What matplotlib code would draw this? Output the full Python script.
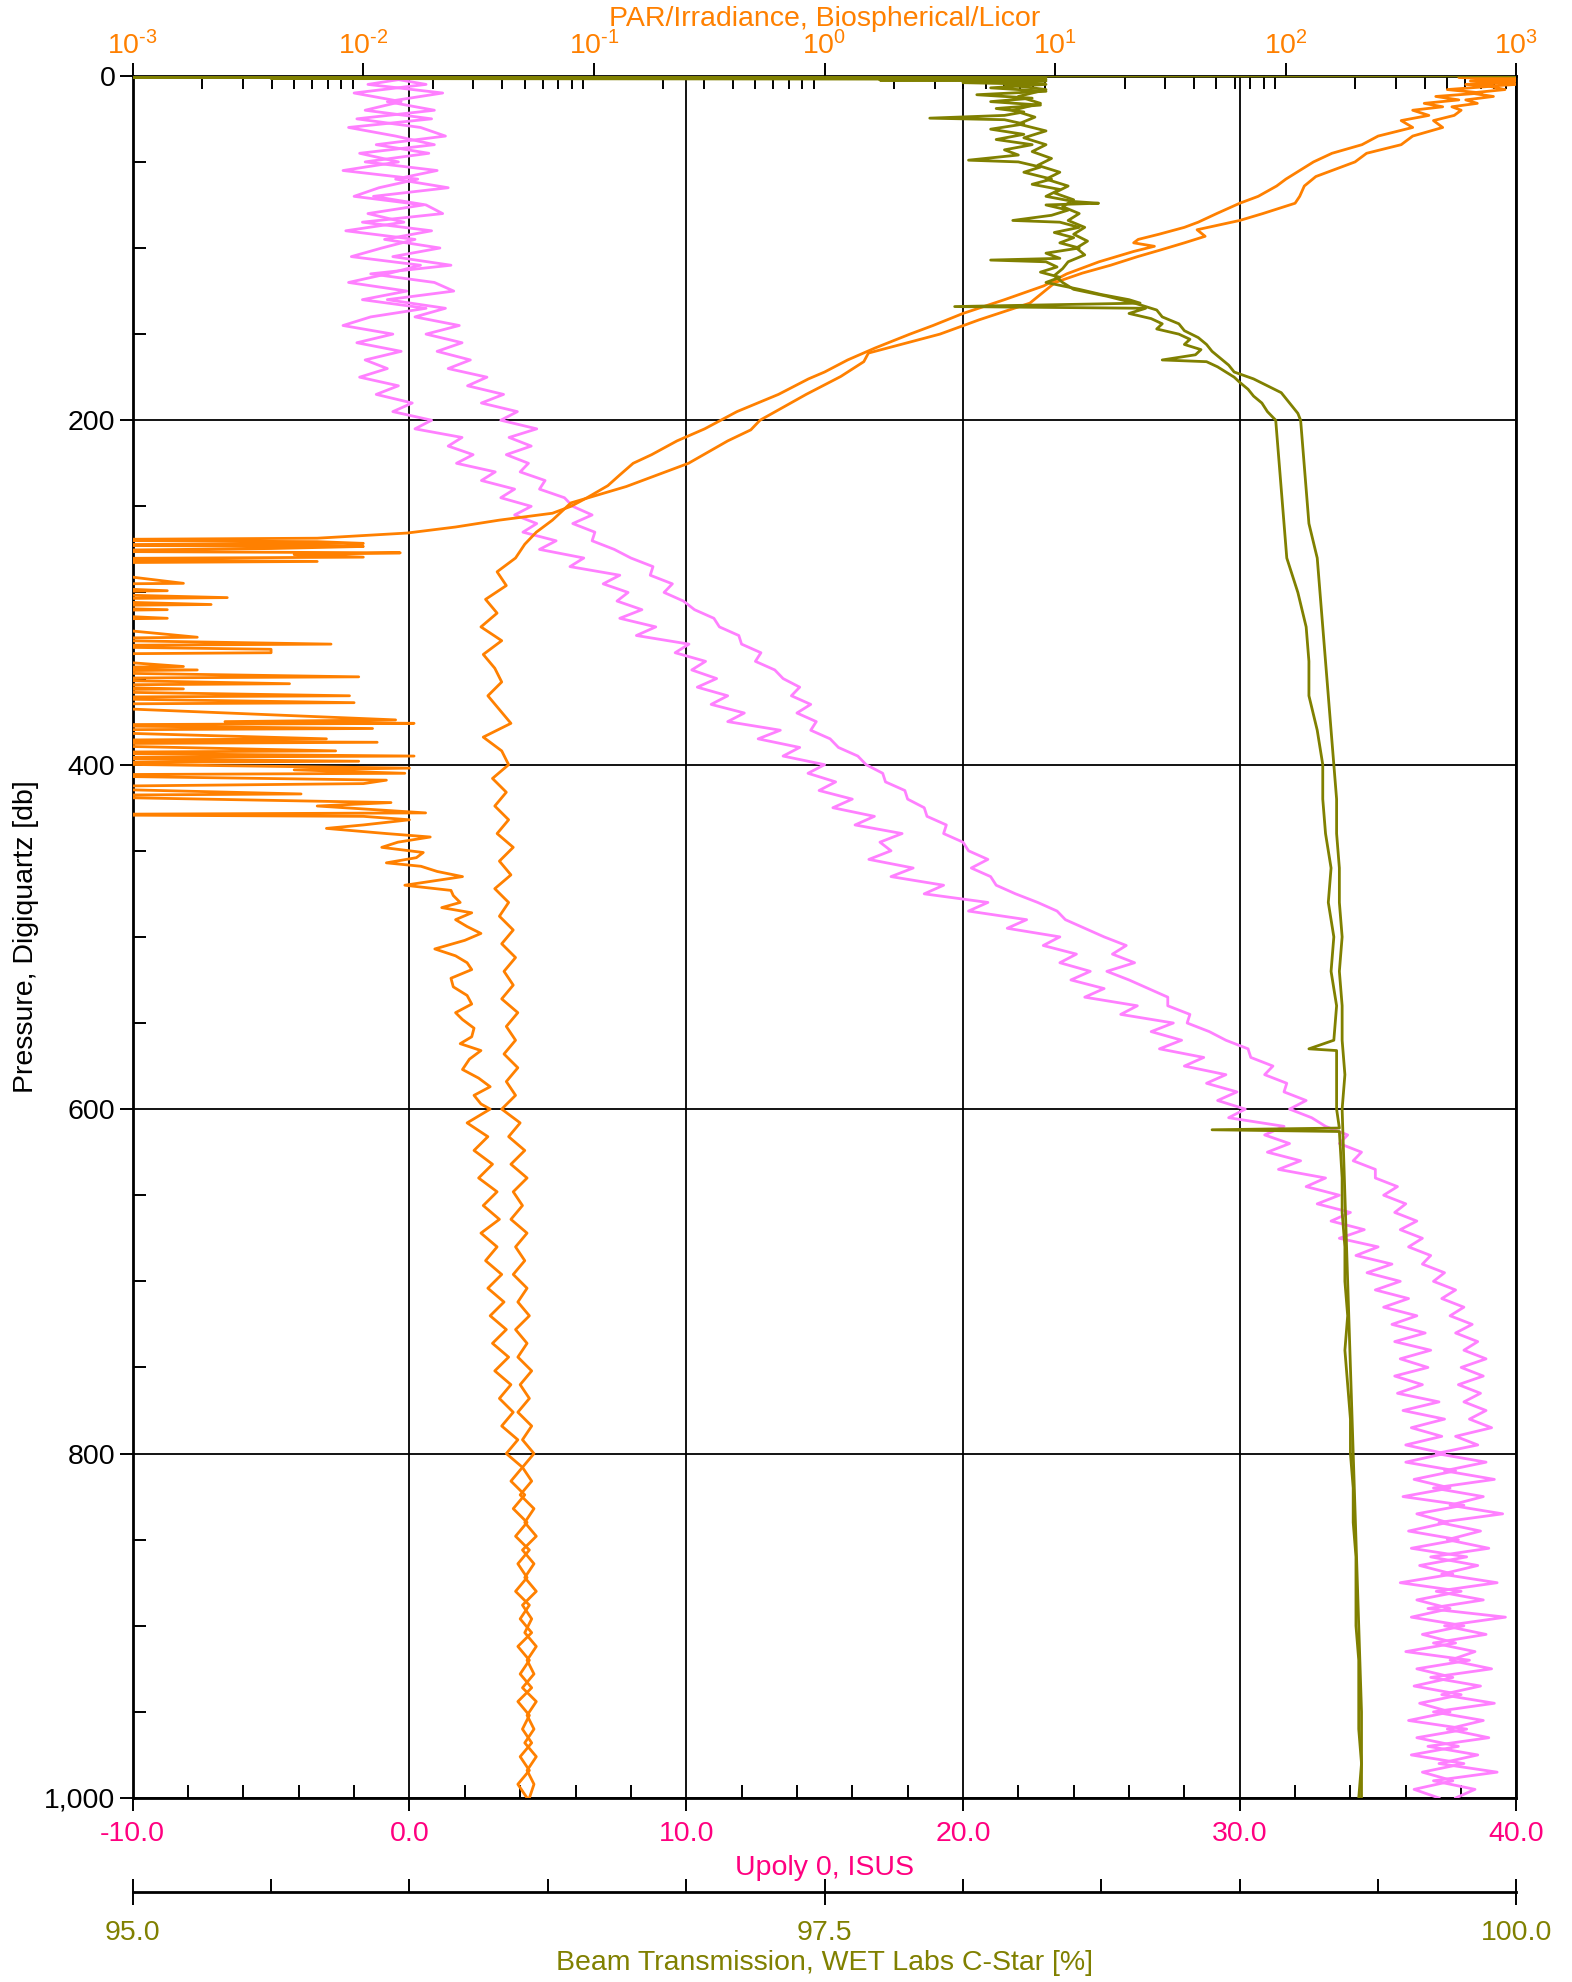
import numpy as np
import matplotlib
matplotlib.use("Agg")
import matplotlib.pyplot as plt
from matplotlib.ticker import MultipleLocator, FixedLocator, FuncFormatter, LogLocator, NullFormatter

plt.rcParams['font.family'] = ['Liberation Sans', 'DejaVu Sans']
plt.rcParams['axes.unicode_minus'] = False
plt.rcParams['mathtext.fontset'] = 'custom'
plt.rcParams['mathtext.rm'] = 'Liberation Sans'
plt.rcParams['mathtext.default'] = 'regular'

# ---------------- data ----------------
# ISUS Upoly 0 (two casts), sampled every 5 db
isus_pressure = np.arange(0, 1001, 5)
isus_cast1 = [
    -1.2, 0.6, -2.0, -0.3, -1.6, 0.8, -2.2, -0.5, 0.9, -1.8,
    -0.4, -2.4, 0.3, -1.1, -2.0, 0.5, -1.5, -0.2, -2.3, 0.2,
    -1.0, -2.1, 0.4, -0.8, -2.2, -0.1, -1.7, 0.6, -1.4, -2.4,
    -0.6, -1.9, -0.3, -1.6, -0.8, -1.8, -0.4, -1.2, 0.1, -0.6,
    0.8, 0.2, 1.9, 1.4, 2.3, 1.7, 3.1, 2.6, 3.8, 3.3,
    4.4, 3.8, 4.6, 4.1, 5.3, 4.7, 6.3, 5.8, 7.6, 7.0,
    7.9, 7.5, 8.4, 7.6, 8.9, 8.2, 10.1, 9.6, 10.7, 10.2,
    11.1, 10.4, 11.5, 10.9, 12.1, 11.5, 13.4, 12.6, 14.1, 13.5,
    15.0, 14.4, 15.4, 14.8, 16.0, 15.3, 16.8, 16.1, 17.8, 17.0,
    17.4, 16.6, 18.2, 17.4, 19.3, 18.6, 20.9, 20.2, 22.3, 21.6,
    23.5, 22.9, 24.1, 23.5, 24.6, 23.9, 25.1, 24.4, 26.3, 25.7,
    27.6, 26.8, 27.9, 27.1, 28.7, 28.0, 29.5, 28.8, 29.9, 29.2,
    30.2, 29.6, 31.6, 30.9, 31.8, 31.0, 32.2, 31.4, 33.1, 32.4,
    33.6, 32.8, 34.0, 33.3, 34.5, 33.6, 35.0, 34.2, 35.5, 34.6,
    35.8, 34.9, 36.1, 35.2, 36.4, 35.5, 36.7, 35.6, 36.9, 35.8,
    36.8, 35.6, 36.6, 35.7, 37.2, 35.9, 37.4, 36.2, 37.3, 36.0,
    37.4, 36.0, 37.8, 36.3, 37.6, 35.9, 38.1, 36.4, 37.5, 36.1,
    37.9, 36.2, 38.2, 36.5, 37.7, 35.8, 38.0, 36.4, 37.6, 36.2,
    38.1, 36.6, 37.8, 36.0, 38.3, 36.4, 37.7, 36.3, 38.0, 36.5,
    37.6, 36.1, 38.2, 36.4, 37.9, 36.2, 38.1, 36.6, 37.7, 36.3,
    37.2]
isus_cast2 = [
    0.5, -1.5, 1.2, -0.8, 0.9, -1.9, 0.4, 1.3, -1.2, 0.7,
    -1.6, 1.0, -0.5, 1.4, -1.3, 0.6, 1.2, -1.7, 0.8, -0.9,
    1.1, -0.6, 1.5, -1.4, 0.9, 1.6, -0.8, 1.3, 0.2, 1.8,
    0.6, 1.9, 1.0, 2.2, 1.4, 2.8, 2.1, 3.4, 2.6, 3.9,
    3.3, 4.6, 3.6, 4.4, 3.5, 4.3, 4.0, 4.9, 4.7, 5.6,
    5.9, 6.6, 5.9, 6.7, 6.6, 7.4, 8.0, 8.8, 8.7, 9.5,
    9.2, 9.9, 10.3, 11.0, 11.2, 11.9, 12.0, 12.7, 12.5, 13.2,
    13.5, 14.1, 13.8, 14.5, 14.0, 14.7, 14.5, 15.2, 15.5, 16.2,
    16.5, 17.1, 17.2, 17.9, 18.0, 18.6, 18.7, 19.4, 19.3, 20.0,
    20.2, 20.9, 20.3, 21.0, 21.2, 21.9, 22.7, 23.4, 23.7, 24.4,
    25.1, 25.9, 25.4, 26.2, 25.2, 26.0, 26.7, 27.4, 27.4, 28.2,
    28.1, 28.9, 29.5, 30.3, 30.4, 31.2, 30.9, 31.7, 31.6, 32.4,
    31.8, 32.6, 33.1, 33.9, 33.6, 34.4, 34.1, 34.9, 34.9, 35.7,
    35.2, 36.0, 35.6, 36.4, 35.8, 36.6, 36.1, 36.9, 36.6, 37.4,
    37.0, 37.8, 37.3, 38.1, 37.6, 38.4, 37.8, 38.6, 38.1, 38.9,
    38.0, 38.8, 37.9, 38.7, 38.1, 38.9, 38.3, 39.1, 37.8, 38.6,
    37.1, 38.9, 37.4, 39.2, 37.0, 38.8, 37.6, 39.5, 37.2, 38.7,
    37.5, 39.0, 36.9, 38.6, 37.3, 39.3, 37.1, 38.8, 36.8, 39.6,
    37.4, 38.9, 37.0, 38.5, 37.6, 39.1, 36.9, 38.7, 37.3, 39.2,
    37.0, 38.8, 37.5, 39.0, 36.8, 38.6, 37.2, 39.3, 37.0, 38.5,
    37.8]

# PAR (log10 of irradiance), cast 1 (drops into dark noise)
par1_pressure = [
    0, 1, 2, 3, 4, 5, 6, 8, 10, 12, 14, 16, 18, 20, 23, 26, 30, 35, 40, 45,
    50, 55, 60, 64, 70, 74, 80, 85, 88, 92, 95, 97, 99, 102, 108, 115, 122, 130, 138, 145,
    150, 158, 165, 172, 176, 185, 195, 205, 212, 220, 225, 232, 238, 245, 250, 254, 258, 262, 265.5, 268.5,
    269.5, 270.5, 271.5, 272.5, 273.3, 274.5, 276, 277, 278, 279.5, 280.5, 282, 283, 294.7, 295.5, 299, 300, 303, 304, 307,
    308, 310, 311, 315, 316, 326, 327, 330, 331, 333, 335, 336, 343, 344, 345, 346, 349, 350, 353, 354,
    356, 357, 360, 361, 364, 365, 374, 375, 376, 377, 379, 380, 385, 386, 387, 388, 392, 393, 395, 396,
    398, 399, 402, 403, 405, 406, 409, 411, 413, 417, 418, 422, 424, 428, 429, 430, 432, 435, 437, 440,
    442, 445, 448, 451, 454, 457, 459, 462, 465, 468, 470, 473, 476, 480, 483, 486, 490, 494, 498, 502,
    507, 511, 515, 519, 524, 529, 534, 539, 544, 548, 553, 558, 562, 566, 571, 577, 582, 587, 592, 597,
    600, 608, 616, 624, 632, 640, 648, 656, 664, 672, 680, 688, 696, 704, 712, 720, 728, 736, 744, 752,
    760, 768, 776, 784, 792, 800, 808, 816, 824, 832, 840, 848, 856, 864, 872, 880, 888, 896, 904, 912,
    920, 928, 936, 944, 952, 960, 968, 976, 984, 992, 1000]
par1_log10 = [
    2.95, 2.75, 3.0, 2.8, 2.97, 2.78, 2.9, 2.7, 2.85, 2.65, 2.75, 2.6, 2.68, 2.55, 2.62, 2.5, 2.55, 2.4, 2.33, 2.2,
    2.12, 2.06, 2.0, 1.96, 1.88, 1.80, 1.70, 1.62, 1.56, 1.45, 1.36, 1.34, 1.43, 1.34, 1.19, 1.05, 0.95, 0.78, 0.60, 0.47,
    0.37, 0.22, 0.10, 0.0, -0.07, -0.2, -0.38, -0.52, -0.64, -0.75, -0.83, -0.89, -0.94, -1.03, -1.1, -1.18, -1.41, -1.6, -1.81, -2.2,
    -3.5, -2.2, -2.0, -3.5, -2.0, -2.4, -3.5, -1.84, -2.3, -2.0, -3.5, -2.2, -3.5, -2.78, -3.5, -2.85, -3.5, -2.59, -3.5, -2.66,
    -3.5, -2.85, -3.5, -2.85, -3.5, -2.72, -3.5, -2.14, -3.5, -2.4, -2.4, -3.5, -2.78, -3.5, -2.72, -3.5, -2.02, -3.5, -2.32, -3.5,
    -2.78, -3.5, -2.06, -3.5, -2.04, -3.5, -1.86, -2.6, -1.78, -3.5, -1.96, -3.5, -2.16, -3.5, -1.94, -3.5, -2.12, -3.5, -1.78, -3.5,
    -2.02, -3.5, -1.80, -2.3, -1.82, -3.5, -1.9, -2.0, -3.5, -2.27, -3.5, -1.88, -2.2, -1.73, -3.5, -2.0, -1.80, -2.0, -2.16, -1.9,
    -1.71, -1.85, -1.92, -1.74, -1.77, -1.9, -1.75, -1.68, -1.57, -1.72, -1.82, -1.62, -1.61, -1.58, -1.66, -1.53, -1.6, -1.55, -1.49, -1.56,
    -1.69, -1.6, -1.55, -1.53, -1.62, -1.61, -1.55, -1.53, -1.6, -1.57, -1.52, -1.53, -1.58, -1.49, -1.54, -1.57, -1.50, -1.45, -1.52, -1.49,
    -1.45, -1.55, -1.46, -1.52, -1.44, -1.50, -1.42, -1.48, -1.41, -1.49, -1.42, -1.47, -1.40, -1.46, -1.39, -1.45, -1.38, -1.44, -1.37, -1.43,
    -1.36, -1.41, -1.35, -1.40, -1.33, -1.38, -1.31, -1.36, -1.30, -1.35, -1.29, -1.34, -1.28, -1.33, -1.29, -1.34, -1.28, -1.32, -1.27, -1.33,
    -1.28, -1.32, -1.27, -1.33, -1.28, -1.31, -1.27, -1.32, -1.28, -1.33, -1.29]

# PAR cast 2
par2_pressure = [
    0, 1, 2, 3, 4, 5, 6, 8, 10, 12, 14, 16, 18, 20, 23, 26, 30, 35, 40, 45,
    50, 55, 58.5, 64, 70, 74, 80, 84, 89.4, 93.2, 97, 101, 105, 110, 114.6, 120, 132, 141.7, 150, 161,
    166, 174.6, 185, 200, 205.6, 212, 225, 238.5, 248, 258, 265, 272,
    280, 288, 296, 304, 312, 320, 328, 336, 344, 352, 360, 368, 376, 384, 392, 400, 408, 416, 424, 432,
    440, 448, 456, 464, 472, 480, 488, 496, 504, 512, 520, 528, 536, 544, 552, 560, 568, 576, 584, 592,
    600, 608, 616, 624, 632, 640, 648, 656, 664, 672, 680, 688, 696, 704, 712, 720, 728, 736, 744, 752,
    760, 768, 776, 784, 792, 800, 808, 816, 824, 832, 840, 848, 856, 864, 872, 880, 888, 896, 904, 912,
    920, 928, 936, 944, 952, 960, 968, 976, 984, 992, 1000]
par2_log10 = [
    2.9, 3.0, 2.85, 3.0, 2.92, 3.0, 2.88, 2.95, 2.8, 2.9, 2.78, 2.83, 2.72, 2.76, 2.73, 2.64, 2.68, 2.55, 2.5, 2.35,
    2.3, 2.2, 2.13, 2.08, 2.06, 2.04, 1.9, 1.80, 1.615, 1.65, 1.56, 1.46, 1.357, 1.24, 1.117, 1.0, 0.89, 0.67, 0.5, 0.19,
    0.17, 0.07, -0.08, -0.28, -0.32, -0.42, -0.59, -0.86, -1.1, -1.18, -1.25, -1.3,
    -1.34, -1.42, -1.38, -1.47, -1.42, -1.49, -1.40, -1.48, -1.43, -1.40, -1.46, -1.41, -1.36, -1.48, -1.40, -1.37, -1.44, -1.38, -1.43, -1.37,
    -1.42, -1.35, -1.41, -1.36, -1.43, -1.37, -1.41, -1.35, -1.40, -1.34, -1.39, -1.35, -1.40, -1.33, -1.38, -1.34, -1.39, -1.33, -1.38, -1.34,
    -1.40, -1.32, -1.37, -1.30, -1.36, -1.29, -1.35, -1.31, -1.36, -1.29, -1.34, -1.30, -1.35, -1.29, -1.33, -1.28, -1.34, -1.29, -1.33, -1.27,
    -1.32, -1.28, -1.33, -1.27, -1.31, -1.26, -1.31, -1.27, -1.32, -1.26, -1.30, -1.25, -1.31, -1.26, -1.30, -1.25, -1.31, -1.27, -1.30, -1.25,
    -1.29, -1.26, -1.31, -1.25, -1.29, -1.26, -1.30, -1.25, -1.29, -1.26, -1.28]

# Beam transmission [%], cast 1
beam1_pressure = [
    0.0, 0.3, 0.6, 0.9, 1.2, 1.6, 2.0, 2.5, 3, 4, 5, 7, 9, 11, 13, 15, 17, 19, 21, 23,
    24.6, 25.5, 28, 31, 34, 37, 40, 43, 46, 49, 50, 53, 56, 60, 63, 66, 70, 73, 74, 75,
    78, 81, 84, 85, 88, 91, 94, 97, 100, 103, 106, 107, 108, 111, 114, 117, 120, 122, 124, 127,
    130, 132, 134, 135, 138, 141, 144, 147, 150, 153, 156, 159, 162, 165, 166, 169, 172, 175, 178, 182,
    186, 190, 195, 200, 220, 240, 260, 280, 300, 320, 340, 360, 380, 400, 420, 440, 460, 480, 500, 520,
    540, 560, 565, 566, 580, 600, 611, 612, 613, 640, 660, 680, 700, 720, 740, 760, 780, 800, 820, 840,
    860, 880, 900, 920, 940, 960, 980, 1000]
beam1_percent = [
    100.6, 94.5, 98.3, 94.8, 98.2, 95.5, 98.3, 97.7, 98.3, 98.0, 98.3, 98.1, 98.3, 98.05, 98.25, 98.1, 98.28, 98.12, 98.22, 98.15,
    97.88, 98.15, 98.22, 98.1, 98.22, 98.12, 98.25, 98.15, 98.2, 98.02, 98.2, 98.28, 98.22, 98.32, 98.25, 98.35, 98.3, 98.4, 98.49, 98.3,
    98.38, 98.32, 98.18, 98.35, 98.42, 98.33, 98.40, 98.35, 98.42, 98.3, 98.35, 98.1, 98.3, 98.34, 98.28, 98.35, 98.3, 98.36, 98.42, 98.5,
    98.6, 98.64, 97.97, 98.66, 98.6, 98.68, 98.72, 98.7, 98.78, 98.82, 98.80, 98.86, 98.84, 98.72, 98.88, 98.92, 98.95, 98.98, 99.0, 99.03,
    99.05, 99.08, 99.1, 99.13, 99.14, 99.15, 99.16, 99.17, 99.21, 99.24, 99.25, 99.25, 99.28, 99.30, 99.30, 99.31, 99.33, 99.32, 99.34, 99.33,
    99.35, 99.34, 99.25, 99.35, 99.35, 99.35, 99.36, 98.9, 99.36, 99.37, 99.37, 99.38, 99.38, 99.39, 99.38, 99.39, 99.40, 99.40, 99.41, 99.41,
    99.42, 99.42, 99.42, 99.43, 99.43, 99.43, 99.44, 99.43]

# Beam transmission [%], cast 2
beam2_pressure = [
    2, 5, 8, 12, 16, 20, 24, 28, 32, 36, 40, 44, 48, 52, 56, 60, 64, 68, 72, 76,
    80, 84, 88, 92, 96, 100, 104, 108, 112, 116, 120, 124, 128, 132, 136, 140, 144, 148, 152, 156,
    160, 164, 168, 172, 176, 180, 184, 188, 192, 196, 200, 220, 240, 260, 280, 300, 320, 340, 360, 380,
    400, 420, 440, 460, 480, 500, 520, 540, 560, 580, 600, 650, 700, 750, 800, 850, 900, 950, 1000]
beam2_percent = [
    98.25, 98.15, 98.3, 98.2, 98.28, 98.18, 98.26, 98.2, 98.3, 98.22, 98.3, 98.25, 98.32, 98.27, 98.35, 98.3, 98.38, 98.33, 98.4, 98.36,
    98.42, 98.38, 98.44, 98.40, 98.45, 98.41, 98.44, 98.38, 98.36, 98.33, 98.36, 98.4, 98.52, 98.62, 98.7, 98.72, 98.78, 98.8, 98.85, 98.88,
    98.9, 98.93, 98.96, 98.98, 99.05, 99.1, 99.15, 99.17, 99.19, 99.21, 99.22, 99.23, 99.24, 99.25, 99.28, 99.29, 99.30, 99.31, 99.32, 99.33,
    99.34, 99.35, 99.35, 99.36, 99.36, 99.37, 99.36, 99.37, 99.37, 99.38, 99.37, 99.38, 99.39, 99.40, 99.41, 99.42, 99.43, 99.44, 99.44]

pressure_ticks = [0, 200, 400, 600, 800, 1000]
upoly_ticks = [-10, 0, 10, 20, 30, 40]
beam_ticks = [95.0, 97.5, 100.0]
par_ticks = [1e-3, 1e-2, 1e-1, 1e0, 1e1, 1e2, 1e3]

# ---------------- style ----------------
C_PINK_LINE = '#FF80FF'
C_PINK_TEXT = '#FF0080'
C_ORANGE = '#FF8000'
C_OLIVE = '#808000'
FS = 20.5
TL = 9.5      # tick length (pt)
TW = 1.4      # tick width (pt)
SPW = 2.0     # spine width
LW = 2.0


def par_label(v, pos):
    e = int(round(np.log10(v)))
    if e < 0:
        return r"$10^{\text{-}%d}$" % (-e)
    return r"$10^{%d}$" % e


fig = plt.figure(figsize=(15.72, 19.82), dpi=100)
ax = fig.add_axes([0.08441, 0.09284, 0.88028, 0.86892])

# ---- main axis: Upoly (bottom) + pressure (left)
ax.plot(isus_cast1, isus_pressure, color=C_PINK_LINE, lw=LW, zorder=3)
ax.plot(isus_cast2, isus_pressure, color=C_PINK_LINE, lw=LW, zorder=3)
ax.set_xlim(-10, 40)
ax.set_ylim(1000, 0)
ax.xaxis.set_major_locator(FixedLocator(upoly_ticks))
ax.xaxis.set_minor_locator(MultipleLocator(2))
ax.xaxis.set_major_formatter(FuncFormatter(lambda v, p: f"{v:.1f}"))
ax.yaxis.set_major_locator(FixedLocator(pressure_ticks))
ax.yaxis.set_minor_locator(MultipleLocator(50))
ax.yaxis.set_major_formatter(FuncFormatter(lambda v, p: f"{v:,.0f}"))
ax.tick_params(axis='both', which='major', direction='out', length=TL, width=TW, labelsize=FS)
ax.tick_params(axis='both', which='minor', direction='in', length=TL, width=TW)
ax.tick_params(axis='x', which='major', labelcolor=C_PINK_TEXT, pad=7)
ax.tick_params(axis='y', which='major', pad=3)
ax.grid(True, which='major', color='black', lw=1.3, zorder=1)
ax.set_axisbelow(True)
for s in ax.spines.values():
    s.set_linewidth(SPW)
ax.set_xlabel("Upoly 0, ISUS", color=C_PINK_TEXT, fontsize=FS, labelpad=6)
ax.set_ylabel("Pressure, Digiquartz [db]", color='black', fontsize=FS, labelpad=4)

# ---- PAR axis (top, log)
axp = ax.twiny()
axp.plot(10 ** np.array(par1_log10), par1_pressure, color=C_ORANGE, lw=LW)
axp.plot(10 ** np.array(par2_log10), par2_pressure, color=C_ORANGE, lw=LW)
axp.set_xscale('log')
axp.set_xlim(1e-3, 1e3)
axp.set_ylim(1000, 0)
axp.xaxis.set_major_locator(FixedLocator(par_ticks))
axp.xaxis.set_major_formatter(FuncFormatter(par_label))
axp.xaxis.set_minor_locator(LogLocator(base=10, subs=np.arange(2, 10), numticks=10))
axp.xaxis.set_minor_formatter(NullFormatter())
axp.tick_params(axis='x', which='major', direction='out', length=TL, width=TW, labelsize=FS,
                labelcolor=C_ORANGE, pad=2)
axp.tick_params(axis='x', which='minor', direction='in', length=TL, width=TW)
for s in axp.spines.values():
    s.set_visible(False)
axp.set_xlabel("PAR/Irradiance, Biospherical/Licor", color=C_ORANGE, fontsize=FS, labelpad=3)

# ---- Beam transmission axis (second bottom axis)
axb = ax.twiny()
axb.plot(beam1_percent, beam1_pressure, color=C_OLIVE, lw=LW)
axb.plot(beam2_percent, beam2_pressure, color=C_OLIVE, lw=LW)
axb.set_xlim(95, 100)
axb.set_ylim(1000, 0)
axb.xaxis.set_ticks_position('bottom')
axb.xaxis.set_label_position('bottom')
for k in ('top', 'left', 'right'):
    axb.spines[k].set_visible(False)
axb.spines['bottom'].set_position(('outward', 67.5))
axb.spines['bottom'].set_linewidth(SPW)
axb.xaxis.set_major_locator(FixedLocator(beam_ticks))
axb.xaxis.set_minor_locator(MultipleLocator(0.5))
axb.xaxis.set_major_formatter(FuncFormatter(lambda v, p: f"{v:.1f}"))
axb.tick_params(axis='x', which='major', direction='inout', length=2 * TL, width=TW, labelsize=FS,
                labelcolor=C_OLIVE, pad=11)
axb.tick_params(axis='x', which='minor', direction='in', length=TL, width=TW)
axb.set_xlabel("Beam Transmission, WET Labs C-Star [%]", color=C_OLIVE, fontsize=FS, labelpad=3)

fig.savefig("out.png", dpi=100)
